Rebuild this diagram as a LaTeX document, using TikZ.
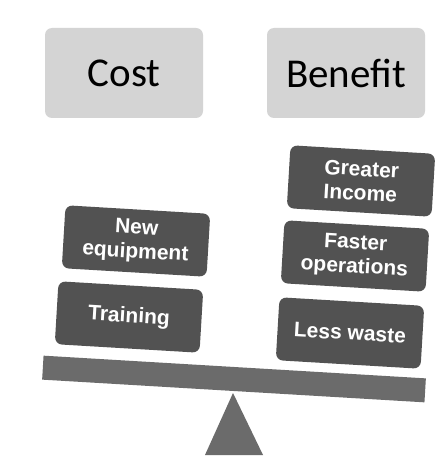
\documentclass[tikz,border=0pt]{standalone}
\usepackage{fontspec}
\setmainfont{Liberation Sans}
\newfontfamily\headfont{Carlito}
\begin{document}
\begin{tikzpicture}[x=1pt,y=-1pt,
  headbox/.style={fill=headgray, rounded corners=7pt, minimum width=158pt, minimum height=90pt, inner sep=0pt, font=\headfont\fontsize{41}{41}\selectfont, text=black},
  itembox/.style={fill=itemgray, rounded corners=7pt, minimum width=145pt, minimum height=63pt, inner sep=0pt, rotate=-3.4, align=center, text=white, font=\bfseries\fontsize{21}{24}\selectfont},
  beamstyle/.style={fill=beamgray, minimum width=383pt, minimum height=24pt, inner sep=0pt, rotate=-3.4}
]
\definecolor{headgray}{HTML}{D4D4D4}
\definecolor{itemgray}{HTML}{525252}
\definecolor{beamgray}{HTML}{6B6B6B}
\useasboundingbox (0,0) rectangle (444,457);
\fill[white] (0,0) rectangle (444,457);
\node[headbox] (cost) at (124,73) {Cost};
\node[headbox] (benefit) at (346,73) {Benefit};
\node[itembox] (equip) at (136,241) {New\\equipment};
\node[itembox] (training) at (129,317) {Training};
\node[itembox] (income) at (361,181) {Greater\\Income};
\node[itembox] (faster) at (355,256) {Faster\\operations};
\node[itembox] (waste) at (350,333) {Less waste};
\node[beamstyle] (beam) at (234,379) {};
\coordinate (apex) at (233,393);
\coordinate (bl) at (205,455);
\coordinate (br) at (263,455);
\fill[beamgray] (apex) -- (bl) -- (br) -- cycle;
\end{tikzpicture}
\end{document}
